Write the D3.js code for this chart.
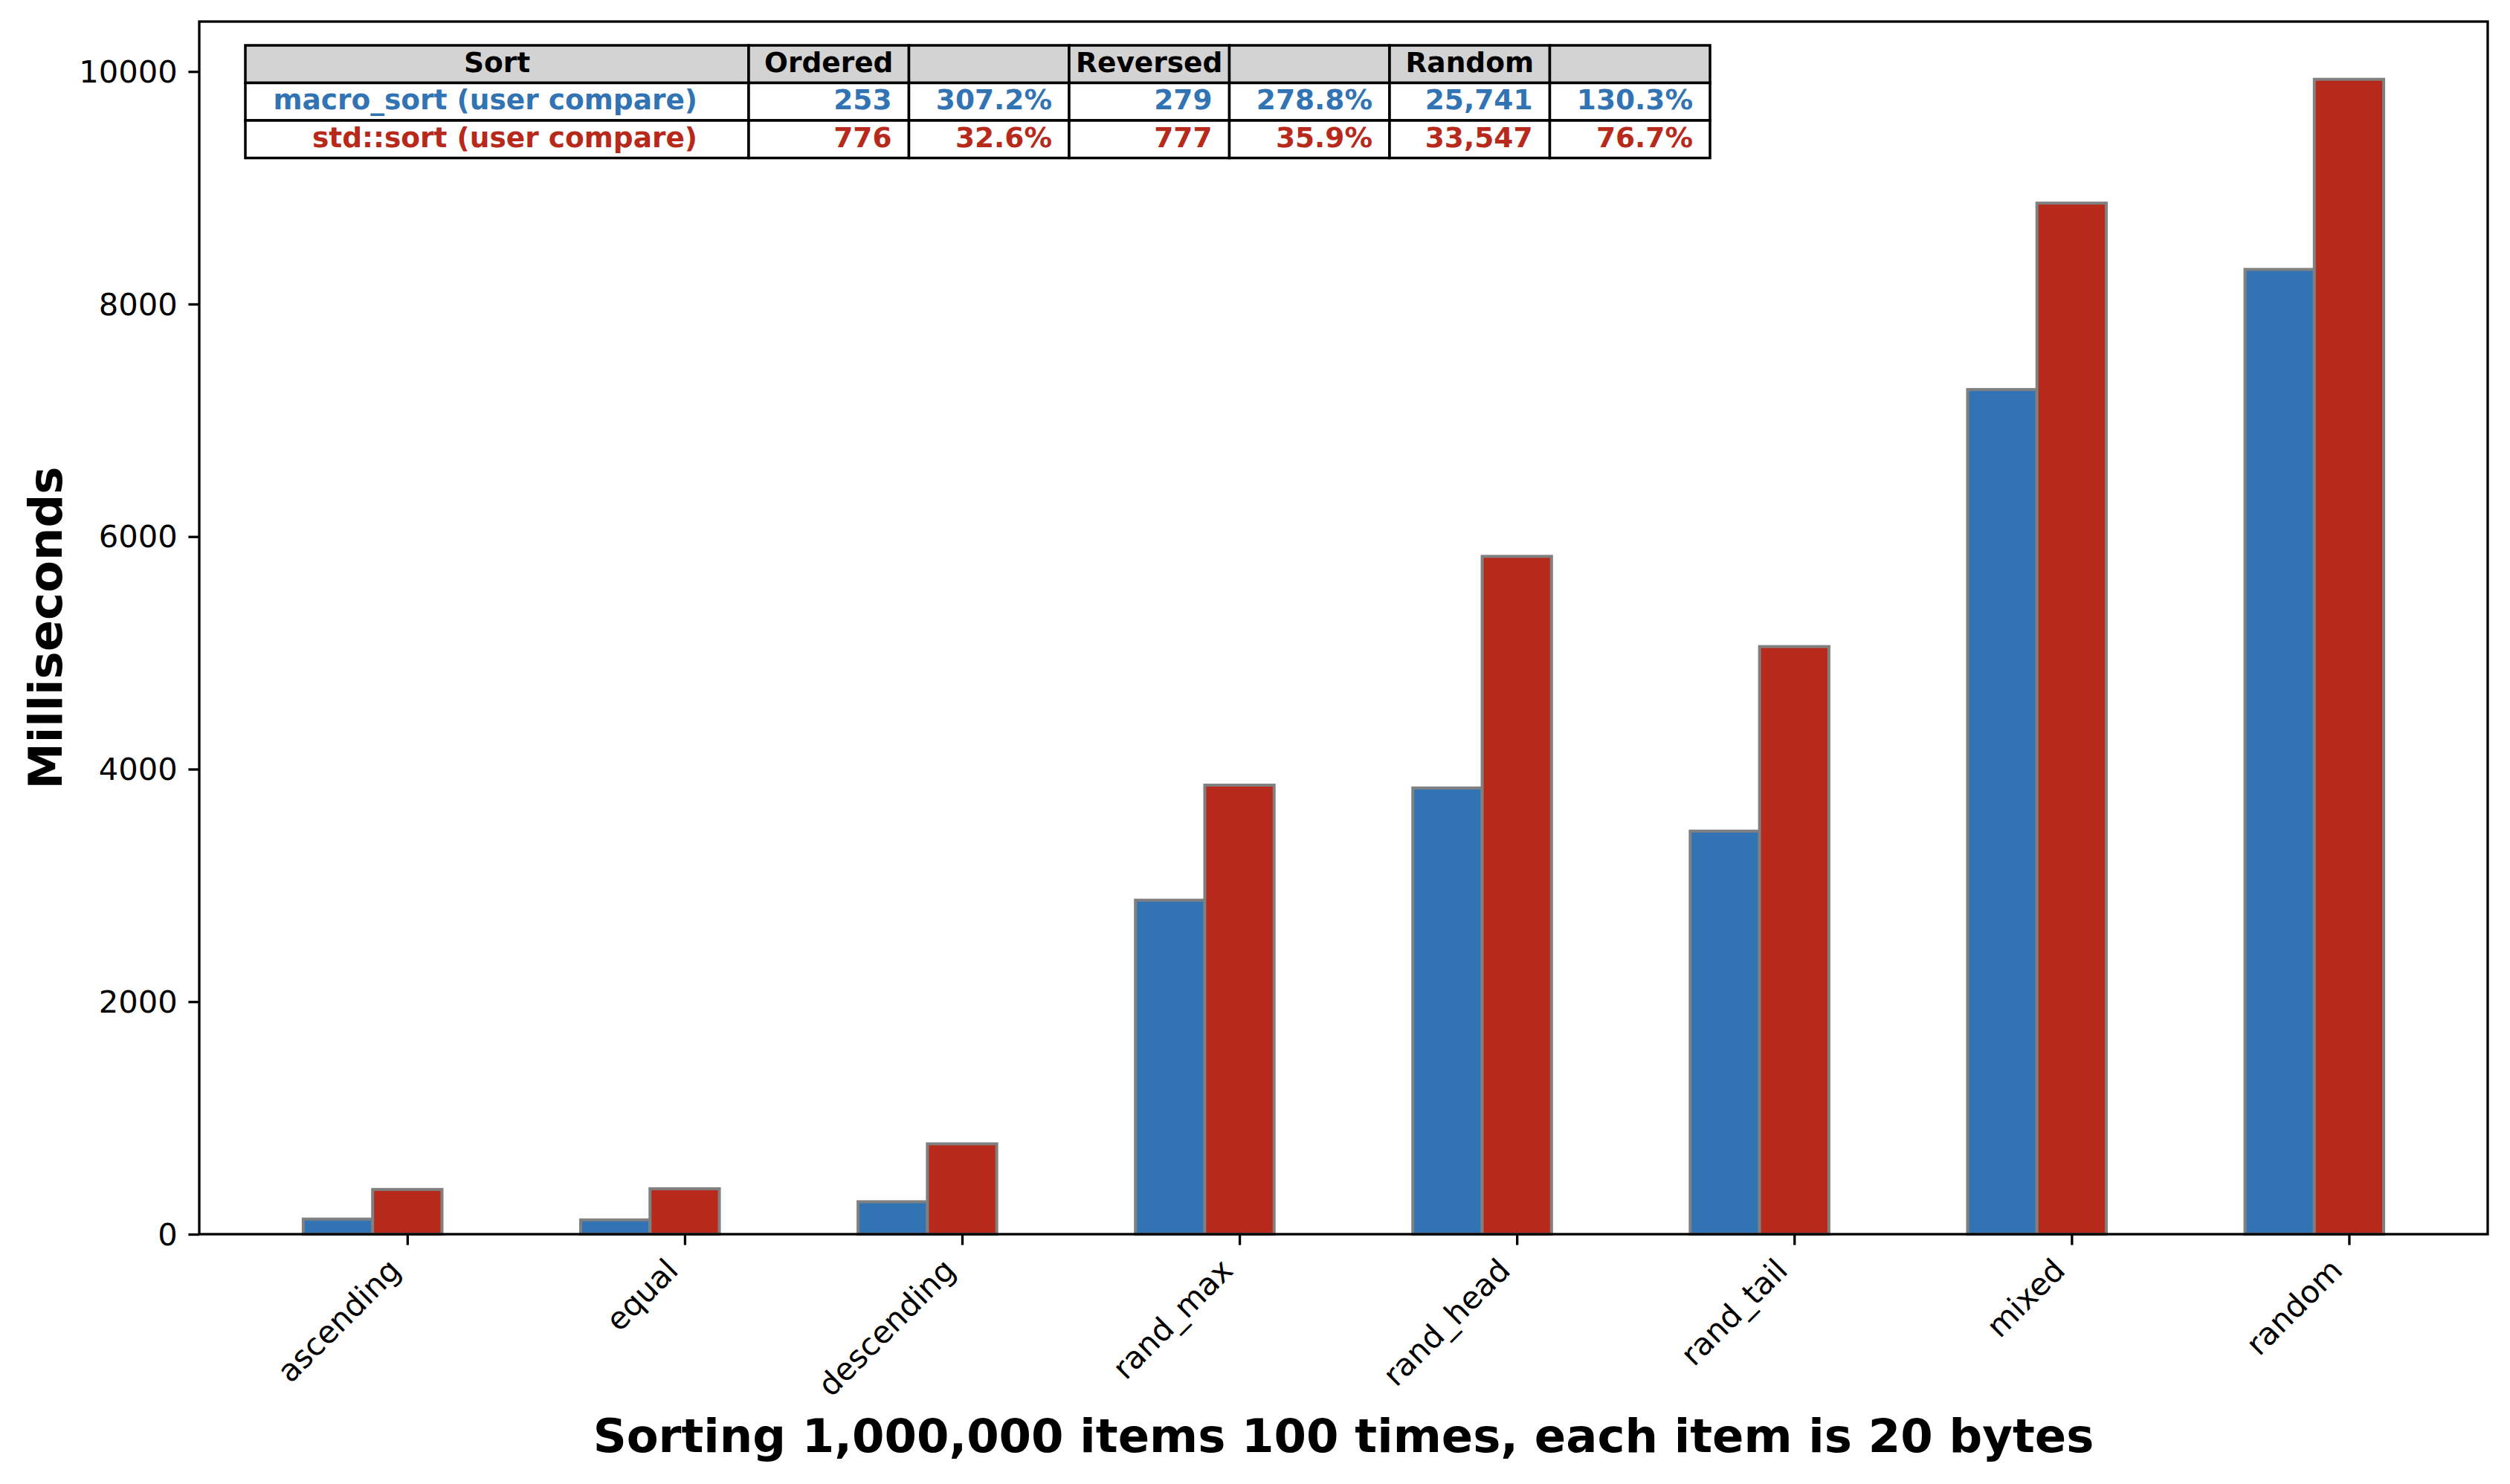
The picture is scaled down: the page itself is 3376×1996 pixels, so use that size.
<!DOCTYPE html>
<html>
<head>
<meta charset="utf-8">
<script src="https://cdn.jsdelivr.net/npm/d3@7"></script>
<style>
    body { margin: 0; background: #fff; }
    text { font-family: "DejaVu Sans", sans-serif; }
</style>
</head>
<body>
<div id="chartspace"></div>
<script>
var categories = ["ascending", "equal", "descending", "rand_max", "rand_head", "rand_tail", "mixed", "random"];
var macroSort = [130, 123, 279, 2873, 3838, 3467, 7265, 8298];
var stdSort = [385, 391, 777, 3862, 5830, 5054, 8868, 9933];
var yTicks = [0, 2000, 4000, 6000, 8000, 10000];

var tableHeader = ["Sort", "Ordered", "", "Reversed", "", "Random", ""];
var tableRows = [
    ["macro_sort (user compare)", "253", "307.2%", "279", "278.8%", "25,741", "130.3%"],
    ["std::sort (user compare)", "776", "32.6%", "777", "35.9%", "33,547", "76.7%"]
];
var xTitle = "Sorting 1,000,000 items 100 times, each item is 20 bytes";
var yTitle = "Milliseconds";

var blue = "#3274b3", red = "#b7291a";
var rowColors = [blue, red];

var W = 3376, H = 1996;
var plot = { left: 268, right: 3346, top: 29, bottom: 1660 };
var barW = 0.25;

var svg = d3.select("#chartspace").append("svg")
    .attr("width", W)
    .attr("height", H);

var x = d3.scaleLinear()
    .domain([-0.75, categories.length - 0.5])
    .range([plot.left, plot.right]);

var y = d3.scaleLinear()
    .domain([0, d3.max(stdSort) * 1.05])
    .range([plot.bottom, plot.top]);

// bars: macro_sort left of the tick, std::sort centred on it
var series = [
    { values: macroSort, offset: -barW, color: blue },
    { values: stdSort, offset: 0, color: red }
];

series.forEach(function (s) {
    svg.append("g").selectAll("rect")
        .data(s.values)
        .enter().append("rect")
        .attr("x", function (d, i) { return x(i + s.offset - barW / 2); })
        .attr("width", x(barW) - x(0))
        .attr("y", function (d) { return y(d); })
        .attr("height", function (d) { return y(0) - y(d); })
        .attr("fill", s.color)
        .attr("stroke", "#808080")
        .attr("stroke-width", 4);
});

// axes
var yAxis = svg.append("g")
    .attr("transform", "translate(" + plot.left + ",0)")
    .call(d3.axisLeft(y).tickValues(yTicks).tickSize(14.6).tickPadding(14.6).tickFormat(d3.format("d")));

var xAxis = svg.append("g")
    .attr("transform", "translate(0," + plot.bottom + ")")
    .call(d3.axisBottom(x).tickValues(d3.range(categories.length)).tickSize(14.6)
        .tickFormat(function (i) { return categories[i]; }));

svg.selectAll(".domain").remove();
svg.selectAll(".tick line").attr("stroke", "#000").attr("stroke-width", 3.3);
svg.selectAll(".tick text")
    .attr("fill", "#000")
    .style("font-family", "DejaVu Sans")
    .style("font-size", "41.67px");

yAxis.selectAll(".tick text").attr("dy", "0.34em");

xAxis.selectAll(".tick text")
    .attr("y", null)
    .attr("dy", null)
    .attr("text-anchor", "end")
    .attr("transform", "translate(-7,51) rotate(-45)");

// frame
svg.append("rect")
    .attr("x", plot.left)
    .attr("y", plot.top)
    .attr("width", plot.right - plot.left)
    .attr("height", plot.bottom - plot.top)
    .attr("fill", "none")
    .attr("stroke", "#000")
    .attr("stroke-width", 3.3);

// titles
svg.append("text")
    .attr("x", (plot.left + plot.right) / 2)
    .attr("y", 1953)
    .attr("text-anchor", "middle")
    .style("font-size", "62.5px")
    .style("font-weight", "bold")
    .text(xTitle);

svg.append("text")
    .attr("transform", "translate(83," + (plot.top + plot.bottom) / 2 + ") rotate(-90)")
    .attr("text-anchor", "middle")
    .style("font-size", "62.5px")
    .style("font-weight", "bold")
    .text(yTitle);

// summary table
var tbl = { left: 330, top: 61, rowH: 50.5 };
var colW = [677, 215.5, 215.5, 215.5, 215.5, 215.5, 215.5];
var colX = [tbl.left];
colW.forEach(function (w, i) { colX.push(colX[i] + w); });

var allRows = [tableHeader].concat(tableRows);
var table = svg.append("g").attr("class", "table");

allRows.forEach(function (row, r) {
    var g = table.append("g")
        .attr("transform", "translate(0," + (tbl.top + r * tbl.rowH) + ")");
    g.selectAll("rect")
        .data(row)
        .enter().append("rect")
        .attr("x", function (d, c) { return colX[c]; })
        .attr("y", 0)
        .attr("width", function (d, c) { return colW[c]; })
        .attr("height", tbl.rowH)
        .attr("fill", r === 0 ? "#d3d3d3" : "#fff")
        .attr("stroke", "#000")
        .attr("stroke-width", 3.5);
    // header cells centred, body cells right aligned
    g.selectAll("text")
        .data(row)
        .enter().append("text")
        .attr("x", function (d, c) {
            if (r === 0) return colX[c] + colW[c] / 2;
            return colX[c + 1] - (c === 0 ? 69 : 23);
        })
        .attr("y", tbl.rowH / 2)
        .attr("dy", "0.28em")
        .attr("text-anchor", r === 0 ? "middle" : "end")
        .attr("fill", r === 0 ? "#000" : rowColors[r - 1])
        .style("font-size", "37.5px")
        .style("font-weight", "bold")
        .text(function (d) { return d; });
});
</script>
</body>
</html>
